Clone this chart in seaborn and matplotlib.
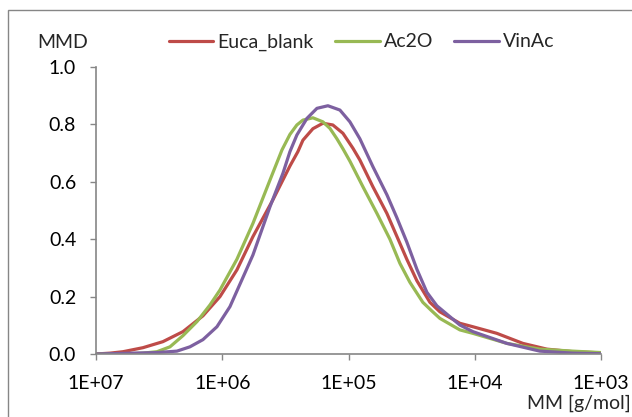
import numpy as np
import pandas as pd
import matplotlib
matplotlib.use("Agg")
import matplotlib.pyplot as plt
import seaborn as sns
from matplotlib.patches import Rectangle
from matplotlib.ticker import FixedLocator, FixedFormatter, NullLocator

# Molar mass distributions: log10 of molar mass (g/mol) and MMD value
euca_lg = [7.000, 6.889, 6.786, 6.628, 6.470, 6.311, 6.153, 6.018, 5.884, 5.757,
           5.599, 5.464, 5.401, 5.361, 5.282, 5.203, 5.124, 5.044, 4.965, 4.910,
           4.807, 4.696, 4.617, 4.538, 4.458, 4.355, 4.276, 4.118, 4.015, 3.825,
           3.619, 3.429, 3.223, 3.000]
euca_mmd = [0.000, 0.003, 0.008, 0.022, 0.043, 0.078, 0.133, 0.200, 0.293, 0.409,
            0.537, 0.655, 0.705, 0.745, 0.785, 0.804, 0.798, 0.769, 0.717, 0.676,
            0.583, 0.490, 0.410, 0.330, 0.255, 0.180, 0.147, 0.107, 0.095, 0.072,
            0.037, 0.017, 0.008, 0.004]

ac2o_lg = [7.000, 6.731, 6.628, 6.517, 6.414, 6.311, 6.200, 6.097, 6.018, 5.884,
           5.757, 5.622, 5.527, 5.464, 5.409, 5.361, 5.282, 5.203, 5.147, 5.092,
           5.044, 4.989, 4.886, 4.775, 4.672, 4.593, 4.514, 4.411, 4.340, 4.276,
           4.118, 4.015, 3.746, 3.485, 3.223, 3.000]
ac2o_mmd = [0.000, 0.001, 0.003, 0.008, 0.025, 0.064, 0.113, 0.171, 0.223, 0.330,
            0.455, 0.606, 0.711, 0.765, 0.798, 0.815, 0.823, 0.809, 0.786, 0.750,
            0.715, 0.672, 0.583, 0.490, 0.400, 0.316, 0.250, 0.180, 0.150, 0.124,
            0.084, 0.072, 0.037, 0.017, 0.010, 0.005]

vinac_lg = [7.000, 6.517, 6.359, 6.256, 6.153, 6.042, 5.939, 5.757, 5.622, 5.519,
            5.464, 5.409, 5.329, 5.250, 5.163, 5.068, 4.989, 4.910, 4.807, 4.696,
            4.617, 4.538, 4.458, 4.379, 4.300, 4.118, 4.015, 3.746, 3.485, 3.223,
            3.000]
vinac_mmd = [0.000, 0.005, 0.010, 0.025, 0.050, 0.095, 0.165, 0.345, 0.513, 0.630,
             0.705, 0.763, 0.821, 0.856, 0.865, 0.850, 0.809, 0.750, 0.653, 0.555,
             0.475, 0.390, 0.295, 0.215, 0.168, 0.101, 0.078, 0.037, 0.010, 0.003,
             0.001]

series_names = ["Euca_blank", "Ac2O", "VinAc"]
colors = ["#BE4B48", "#98B954", "#7D60A0"]

x_ticks = [1e7, 1e6, 1e5, 1e4, 1e3]
x_labels = ["1E+07", "1E+06", "1E+05", "1E+04", "1E+03"]
y_ticks = [0.0, 0.2, 0.4, 0.6, 0.8, 1.0]

frames = []
for name, lg, mmd in zip(series_names, [euca_lg, ac2o_lg, vinac_lg],
                         [euca_mmd, ac2o_mmd, vinac_mmd]):
    frames.append(pd.DataFrame({"MM": 10 ** np.array(lg), "MMD": mmd, "sample": name}))
df = pd.concat(frames, ignore_index=True)

sns.set_style("white")
plt.rcParams["font.family"] = ["Lato", "DejaVu Sans"]
FS = 14

fig = plt.figure(figsize=(6.32, 4.17), dpi=100)
ax = fig.add_axes([96 / 632, 1 - 354 / 417, (601 - 96) / 632, (354 - 67) / 417])

sns.lineplot(data=df, x="MM", y="MMD", hue="sample", hue_order=series_names,
             palette=colors, estimator=None, linewidth=2.3, ax=ax)

ax.set_xscale("log")
ax.set_xlim(1e7, 1e3)
ax.set_ylim(0, 1.0)
ax.xaxis.set_major_locator(FixedLocator(x_ticks))
ax.xaxis.set_major_formatter(FixedFormatter(x_labels))
ax.xaxis.set_minor_locator(NullLocator())
ax.set_yticks(y_ticks)
ax.set_yticklabels([f"{v:.1f}" for v in y_ticks])
ax.set_xlabel("")
ax.set_ylabel("")

axis_gray = "#868686"
for side in ["top", "right"]:
    ax.spines[side].set_visible(False)
for side in ["left", "bottom"]:
    ax.spines[side].set_color(axis_gray)
    ax.spines[side].set_linewidth(1.2)
ax.tick_params(axis="y", direction="out", length=4.3, width=1, color=axis_gray,
               pad=10, labelsize=FS, labelcolor="black", left=True)
ax.tick_params(axis="x", direction="out", length=4, width=1, color=axis_gray,
               pad=11, labelsize=FS, labelcolor="black", bottom=True)

handles, labels = ax.get_legend_handles_labels()
ax.legend(handles, labels, loc="center", bbox_to_anchor=(0.572, 1 - 42 / 417),
          bbox_transform=fig.transFigure, ncol=3, frameon=False,
          fontsize=FS, handlelength=2.3, handletextpad=0.2, columnspacing=1.1)

fig.text(63 / 632, 1 - 43 / 417, "MMD", ha="center", va="center", fontsize=FS)
fig.text(631 / 632, 1 - 403 / 417, "MM [g/mol]", ha="right", va="center", fontsize=FS)

# outer chart frame
fig.patches.append(Rectangle((8 / 632, -0.05), 1.1, 1 - 10 / 417 + 0.05,
                             transform=fig.transFigure, fill=False,
                             edgecolor=axis_gray, linewidth=1.0))

fig.savefig("out.png", dpi=100, facecolor="white")
